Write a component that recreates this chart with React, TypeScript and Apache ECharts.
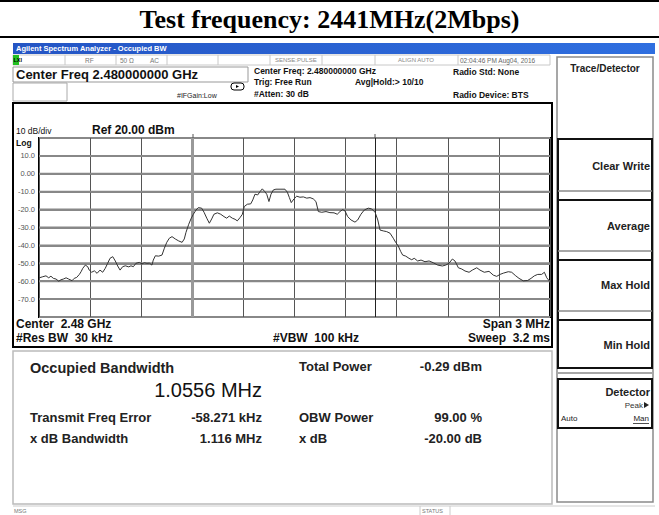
import React, { useEffect, useRef } from "react";
import * as echarts from "echarts";

const centerFreqMHz = 2480;
const spanMHz = 3;
const refLevelDbm = 20;
const dbPerDiv = 10;

const freqMHz = [
  2478.502, 2478.522, 2478.541, 2478.557, 2478.57, 2478.584, 2478.6, 2478.616, 2478.629, 2478.643,
  2478.659, 2478.674, 2478.694, 2478.707, 2478.721, 2478.737, 2478.747, 2478.757, 2478.772, 2478.786,
  2478.795, 2478.809, 2478.825, 2478.841, 2478.858, 2478.874, 2478.889, 2478.903, 2478.917, 2478.933,
  2478.948, 2478.962, 2478.976, 2478.991, 2479.007, 2479.027, 2479.04, 2479.054, 2479.069, 2479.089,
  2479.105, 2479.118, 2479.134, 2479.148, 2479.163, 2479.171, 2479.183, 2479.203, 2479.222, 2479.236,
  2479.25, 2479.265, 2479.281, 2479.3, 2479.32, 2479.34, 2479.353, 2479.363, 2479.379, 2479.392,
  2479.406, 2479.422, 2479.435, 2479.455, 2479.469, 2479.485, 2479.5, 2479.514, 2479.527, 2479.547,
  2479.567, 2479.586, 2479.602, 2479.617, 2479.635, 2479.651, 2479.664, 2479.68, 2479.694, 2479.705,
  2479.723, 2479.743, 2479.755, 2479.768, 2479.784, 2479.798, 2479.811, 2479.825, 2479.837, 2479.85,
  2479.862, 2479.876, 2479.891, 2479.915, 2479.944, 2479.958, 2479.97, 2479.981, 2479.997, 2480.013,
  2480.032, 2480.052, 2480.072, 2480.091, 2480.11, 2480.126, 2480.14, 2480.16, 2480.185, 2480.208,
  2480.232, 2480.251, 2480.267, 2480.283, 2480.297, 2480.312, 2480.332, 2480.355, 2480.371, 2480.39,
  2480.41, 2480.433, 2480.453, 2480.473, 2480.489, 2480.502, 2480.521, 2480.541, 2480.561, 2480.58,
  2480.594, 2480.609, 2480.624, 2480.635, 2480.653, 2480.672, 2480.688, 2480.703, 2480.723, 2480.743,
  2480.766, 2480.79, 2480.815, 2480.841, 2480.868, 2480.888, 2480.907, 2480.927, 2480.942, 2480.962,
  2480.982, 2481.001, 2481.025, 2481.044, 2481.07, 2481.089, 2481.114, 2481.142, 2481.167, 2481.187,
  2481.207, 2481.226, 2481.255, 2481.275, 2481.299, 2481.318, 2481.343, 2481.369, 2481.389, 2481.408,
  2481.428, 2481.451, 2481.467, 2481.481, 2481.5,
];

const powerDbm = [
  -58.1, -57.5, -57.0, -58.1, -57.2, -58.4, -58.8, -60.0, -59.2, -58.8,
  -58.1, -58.8, -59.7, -58.4, -57.9, -56.2, -54.7, -52.8, -51.0, -51.9,
  -53.8, -55.0, -54.2, -55.6, -53.8, -55.0, -52.8, -50.0, -47.2, -46.3,
  -48.7, -51.5, -53.8, -51.9, -51.4, -52.0, -51.4, -51.9, -50.0, -49.5,
  -50.3, -49.7, -50.0, -49.9, -51.0, -48.2, -45.8, -46.0, -45.4, -41.6,
  -38.3, -36.0, -35.1, -36.4, -37.5, -38.3, -36.4, -32.7, -28.2, -25.2,
  -22.6, -20.2, -18.9, -19.2, -21.5, -24.8, -27.6, -25.2, -22.6, -21.8,
  -22.6, -23.9, -24.8, -23.6, -24.8, -25.4, -26.3, -24.5, -22.6, -18.3,
  -17.0, -16.8, -14.6, -11.4, -11.8, -9.9, -8.4, -9.9, -11.4, -15.5,
  -11.4, -9.0, -8.6, -8.6, -8.6, -10.3, -13.3, -16.1, -14.0, -12.5,
  -13.1, -12.9, -13.6, -13.3, -14.0, -15.5, -21.1, -21.5, -21.1, -21.7,
  -21.8, -22.6, -21.1, -20.0, -20.8, -23.9, -25.8, -27.0, -25.8, -22.6,
  -20.2, -19.2, -19.6, -21.5, -25.8, -31.4, -31.9, -32.3, -33.2, -36.0,
  -38.3, -40.3, -43.5, -45.4, -46.0, -47.2, -48.0, -47.2, -48.7, -48.2,
  -49.1, -48.7, -49.7, -51.0, -51.5, -51.0, -50.0, -47.6, -48.7, -52.5,
  -53.2, -54.3, -55.0, -53.8, -52.5, -53.8, -55.0, -54.5, -56.6, -57.3,
  -56.2, -55.5, -54.7, -55.0, -57.0, -58.4, -59.8, -59.6, -58.4, -57.0,
  -56.2, -56.2, -55.0, -58.1, -60.3,
];

// OBW marker frequencies (MHz)
const obwMarkersMHz = [2479.402, 2480.473];

// horizontal graticule levels (dBm) and their labels
const yGridDbm = [10, 0, -10, -20, -30, -40, -50, -60, -70];
const yTickLabels = ["10.0", "0.00", "-10.0", "-20.0", "-30.0", "-40.0", "-50.0", "-60.0", "-70.0"];

const FONT = "'Liberation Sans', Arial, sans-serif";

function T(x: number, y: number, text: string, size: number, opts: any = {}) {
  const align = opts.align || "left";
  return {
    type: "text",
    x,
    y,
    silent: true,
    z: 10,
    style: {
      text,
      font: `${opts.bold ? "bold " : ""}${size}px ${opts.family || FONT}`,
      fill: opts.fill || "#000",
      textAlign: align,
      textVerticalAlign: "middle",
      align,
      verticalAlign: "middle",
    },
  };
}
function R(x: number, y: number, w: number, h: number, style: any, z = 1) {
  return { type: "rect", silent: true, z, shape: { x, y, width: w, height: h }, style };
}
function L(x1: number, y1: number, x2: number, y2: number, stroke: string, lineWidth = 1, z = 5) {
  return { type: "line", silent: true, z, shape: { x1, y1, x2, y2 }, style: { stroke, lineWidth } };
}

export default function App() {
  const ref = useRef<HTMLDivElement>(null);
  useEffect(() => {
    if (!ref.current) return;
    const chart = echarts.init(ref.current, undefined, { renderer: "svg" });
    const halfSpanKHz = (spanMHz * 1000) / 2;
    const data = freqMHz.map((f, i) => [(f - centerFreqMHz) * 1000, powerDbm[i]]);
    const markers = obwMarkersMHz.map((f) => (f - centerFreqMHz) * 1000);

    const gray = "#8a8a8a";
    const graphic: any[] = [
      // title
      L(0, 1, 659, 1, "#000", 2),
      T(329.5, 19, "Test frequency: 2441MHz(2Mbps)", 26, { bold: true, family: "'Liberation Serif', 'Times New Roman', serif", align: "center" }),
      L(0, 37, 659, 37, "#000", 2),
      // blue title bar
      R(13, 43, 642, 11, {
        fill: new echarts.graphic.LinearGradient(0, 0, 1, 0, [
          { offset: 0, color: "#2455c4" },
          { offset: 1, color: "#2f6fe0" },
        ]),
      }),
      T(16, 48.5, "Agilent Spectrum Analyzer - Occupied BW", 7.5, { bold: true, fill: "#fff" }),
      // status row
      R(13, 55, 537, 10, { fill: "#fff", stroke: "#c8c8c8", lineWidth: 1 }),
      R(13, 55, 6, 10, { fill: "#22c022" }),
      T(13.5, 60, "LXI", 5.5, { bold: true }),
      L(65, 55, 65, 65, "#c8c8c8"),
      L(116, 55, 116, 65, "#c8c8c8"),
      L(167, 55, 167, 65, "#c8c8c8"),
      L(218, 55, 218, 65, "#c8c8c8"),
      L(270, 55, 270, 65, "#c8c8c8"),
      L(322, 55, 322, 65, "#c8c8c8"),
      L(375, 55, 375, 65, "#c8c8c8"),
      L(458, 55, 458, 65, "#c8c8c8"),
      T(85, 60, "RF", 6.5, { fill: "#777" }),
      T(120, 60, "50 Ω", 6.5, { fill: "#777" }),
      T(150, 60, "AC", 6.5, { fill: "#777" }),
      T(275, 60, "SENSE:PULSE", 6, { fill: "#888" }),
      T(398, 60, "ALIGN AUTO", 6, { fill: "#888" }),
      T(460, 60, "02:04:46 PM Aug04, 2016", 6.5, { fill: "#666" }),
      // center freq box
      R(13, 67, 235, 15, { fill: "#fff", stroke: "#999", lineWidth: 1 }),
      T(16, 74.5, "Center Freq 2.480000000 GHz", 13, { bold: true, fill: "#111" }),
      R(13, 83, 54, 18, { fill: "#fff", stroke: "#aaa", lineWidth: 1 }),
      T(177, 95, "#IFGain:Low", 7, { fill: "#222" }),
      { type: "rect", silent: true, z: 5, shape: { x: 231, y: 83, width: 13, height: 7, r: 3 }, style: { fill: "none", stroke: "#000", lineWidth: 1 } },
      { type: "polygon", silent: true, z: 6, shape: { points: [[236, 85], [239, 86.5], [236, 88]] }, style: { fill: "#000" } },
      T(254, 71, "Center Freq: 2.480000000 GHz", 8.5, { bold: true, fill: "#111" }),
      T(254, 82, "Trig: Free Run", 8.5, { bold: true, fill: "#111" }),
      T(254, 94, "#Atten: 30 dB", 8.5, { bold: true, fill: "#111" }),
      T(355, 82, "Avg|Hold:> 10/10", 8.5, { bold: true, fill: "#111" }),
      T(453, 72, "Radio Std: None", 8.5, { bold: true, fill: "#111" }),
      T(453, 95, "Radio Device: BTS", 8.5, { bold: true, fill: "#111" }),
      // plot panel
      R(13, 103, 539, 244, { fill: "none", stroke: "#000", lineWidth: 2 }, 2),
      T(16, 131, "10 dB/div", 8.5, { fill: "#111" }),
      T(92, 130, "Ref 20.00 dBm", 12, { bold: true, fill: "#111" }),
      T(16, 143, "Log", 8.5, { bold: true, fill: "#111" }),
      T(16, 324, "Center  2.48 GHz", 12, { bold: true, fill: "#111" }),
      T(16, 338, "#Res BW  30 kHz", 12, { bold: true, fill: "#111" }),
      T(273, 338, "#VBW  100 kHz", 12, { bold: true, fill: "#111" }),
      T(550, 324, "Span 3 MHz", 12, { bold: true, fill: "#111", align: "right" }),
      T(550, 338, "Sweep  3.2 ms", 12, { bold: true, fill: "#111", align: "right" }),
      // OBW marker ticks above plot
      L(193, 134, 193, 138, "#555", 1),
      L(375, 134, 375, 138, "#555", 1),
      // results panel
      R(13, 351, 539, 153, { fill: "#fff", stroke: "#bbb", lineWidth: 1.5 }, 1),
      T(30, 368, "Occupied Bandwidth", 14.5, { bold: true, fill: "#222" }),
      T(262, 390, "1.0556 MHz", 20, { fill: "#111", align: "right" }),
      T(299, 366, "Total Power", 13, { bold: true, fill: "#222" }),
      T(482, 366, "-0.29 dBm", 13, { bold: true, fill: "#222", align: "right" }),
      T(30, 417, "Transmit Freq Error", 13, { bold: true, fill: "#222" }),
      T(262, 417, "-58.271 kHz", 13, { bold: true, fill: "#222", align: "right" }),
      T(299, 417, "OBW Power", 13, { bold: true, fill: "#222" }),
      T(482, 417, "99.00 %", 13, { bold: true, fill: "#222", align: "right" }),
      T(30, 438, "x dB Bandwidth", 13, { bold: true, fill: "#222" }),
      T(262, 438, "1.116 MHz", 13, { bold: true, fill: "#222", align: "right" }),
      T(299, 438, "x dB", 13, { bold: true, fill: "#222" }),
      T(482, 438, "-20.00 dB", 13, { bold: true, fill: "#222", align: "right" }),
      // bottom message bar
      L(13, 506, 655, 506, "#ccc", 1),
      L(420, 506, 420, 515, "#ccc", 1),
      L(450, 506, 450, 515, "#ccc", 1),
      T(14, 511, "MSG", 5.5, { fill: "#777" }),
      T(422, 511, "STATUS", 5.5, { fill: "#777" }),
      // right softkey panel
      R(557, 57, 96, 445, { fill: "#fff", stroke: gray, lineWidth: 1.5 }, 1),
      T(605, 68, "Trace/Detector", 10, { bold: true, fill: "#222", align: "center" }),
      R(558, 139, 94, 229, { fill: "none", stroke: "#111", lineWidth: 2 }, 3),
      L(558, 200, 652, 200, "#111", 2),
      L(558, 260, 652, 260, "#111", 2),
      L(558, 320, 652, 320, "#111", 2),
      L(558, 191, 652, 191, gray, 1.5),
      L(558, 251, 652, 251, gray, 1.5),
      L(558, 311, 652, 311, gray, 1.5),
      L(558, 373, 652, 373, gray, 1.5),
      R(558, 379, 94, 49, { fill: "none", stroke: "#111", lineWidth: 2 }, 3),
      T(650, 166, "Clear Write", 11, { bold: true, fill: "#222", align: "right" }),
      T(650, 226, "Average", 11, { bold: true, fill: "#222", align: "right" }),
      T(650, 285, "Max Hold", 11, { bold: true, fill: "#222", align: "right" }),
      T(650, 345, "Min Hold", 11, { bold: true, fill: "#222", align: "right" }),
      T(650, 392, "Detector", 11, { bold: true, fill: "#222", align: "right" }),
      T(643, 405, "Peak", 8, { fill: "#333", align: "right" }),
      { type: "polygon", silent: true, z: 6, shape: { points: [[644, 402], [649, 405], [644, 408]] }, style: { fill: "#222" } },
      T(561, 418, "Auto", 8, { fill: "#222" }),
      T(649, 418, "Man", 8, { fill: "#222", align: "right" }),
      L(633, 423.5, 649, 423.5, "#222", 0.8),
    ];

    // horizontal graticule drawn as two-point line series through the axes
    const gridSeries = yGridDbm.map((v) => ({
      type: "line",
      data: [
        [-halfSpanKHz, v],
        [halfSpanKHz, v],
      ],
      showSymbol: false,
      symbol: "none",
      silent: true,
      z: 3,
      lineStyle: { color: "#888888", width: 2, type: "solid" },
    }));

    chart.setOption({
      animation: false,
      backgroundColor: "#fff",
      grid: {
        left: 39,
        top: 138,
        width: 511,
        height: 179,
        show: true,
        borderColor: "#000",
        borderWidth: 2,
      },
      xAxis: {
        type: "value",
        min: -halfSpanKHz,
        max: halfSpanKHz,
        interval: 300,
        axisLine: { show: false },
        axisTick: { show: false },
        axisLabel: { show: false },
        splitLine: { show: true, lineStyle: { color: "#555", width: 1 } },
      },
      yAxis: {
        type: "value",
        min: refLevelDbm - 10 * dbPerDiv,
        max: refLevelDbm,
        interval: dbPerDiv,
        axisLine: { show: false },
        axisTick: { show: false },
        axisLabel: {
          show: true,
          margin: 4,
          fontSize: 7.5,
          fontFamily: FONT,
          color: "#555",
          formatter: (v: number) => {
            const idx = yGridDbm.indexOf(Math.round(v));
            return idx >= 0 ? yTickLabels[idx] : "";
          },
        },
        splitLine: { show: true, lineStyle: { color: "#888888", width: 2 } },
      },
      series: [
        ...gridSeries,
        {
          type: "line",
          data,
          showSymbol: false,
          symbol: "none",
          lineStyle: { color: "#333", width: 1 },
          z: 5,
          markLine: {
            silent: true,
            symbol: "none",
            label: { show: false },
            data: [
              { xAxis: markers[0], lineStyle: { color: "#999", width: 3, type: "solid" } },
              { xAxis: markers[1], lineStyle: { color: "#222", width: 1, type: "solid" } },
            ],
          },
        },
      ],
      graphic,
    });
    return () => chart.dispose();
  }, []);
  return (
    <div
      ref={ref}
      style={{ position: "fixed", left: 0, top: 0, width: 659, height: 515, background: "#fff" }}
    />
  );
}
